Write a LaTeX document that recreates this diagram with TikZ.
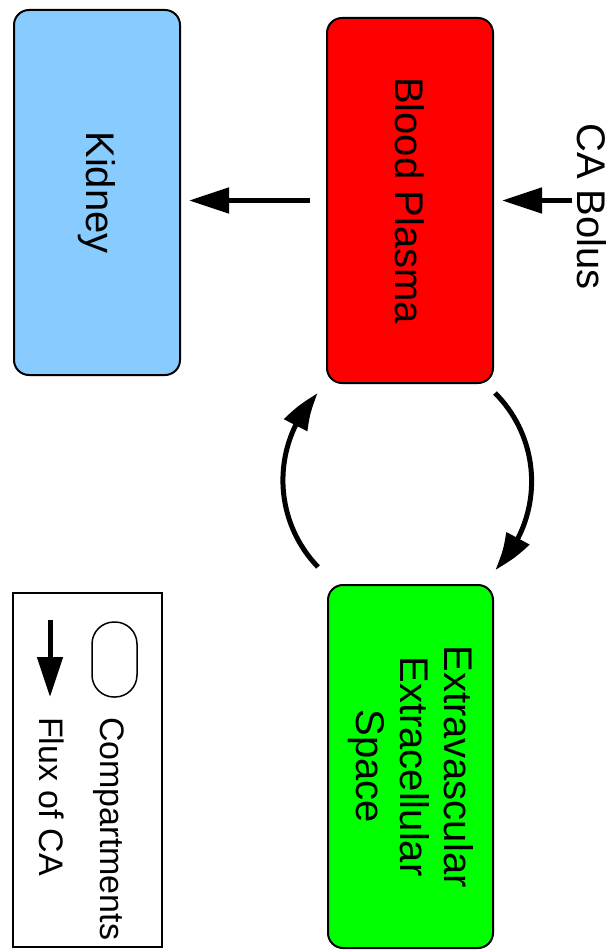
\documentclass[tikz,border=0pt]{standalone}
\usepackage{fontspec}
\setmainfont{Liberation Sans}
\usetikzlibrary{arrows.meta,bending}
\definecolor{kidneyblue}{RGB}{136,204,255}
\definecolor{plasmared}{RGB}{255,0,0}
\definecolor{eesgreen}{RGB}{0,255,0}
\begin{document}
\begin{tikzpicture}[x=1pt,y=-1pt,
  comp/.style={draw=black, line width=2pt, rounded corners=15pt, rotate=-90,
    minimum width=365pt, minimum height=166pt, inner sep=0pt,
    font=\fontsize{40}{44}\selectfont, align=center},
  flux/.style={line width=5pt, -{Triangle[length=40pt,width=25pt]}},
  cflux/.style={line width=5pt, -{Triangle[length=40pt,width=25pt,bend]}},
  lbl/.style={rotate=-90, inner sep=0pt, font=\fontsize{40}{44}\selectfont},
  legtxt/.style={rotate=-90, inner sep=0pt, anchor=west, font=\fontsize{34}{38}\selectfont}]
\useasboundingbox (0,0) rectangle (613,950);
% compartments
\node[comp, fill=kidneyblue] (kidney) at (97,192.5) {Kidney};
\node[comp, fill=plasmared] (bp) at (410,200.5) {Blood Plasma};
\node[comp, fill=eesgreen, minimum width=363pt, minimum height=165pt] (ees) at (410.5,766.5)
  {Extravascular\\Extracellular\\Space};
% bolus
\node[lbl, anchor=west] (bolus) at (592,123) {CA Bolus};
\coordinate (bolustail) at (572,200.5);
\coordinate (bolustip) at (502,200.5);
\draw[flux] (bolustail) -- (bolustip);
% plasma -> kidney
\coordinate (kidtail) at (310,200.5);
\coordinate (kidtip) at (189,200.5);
\draw[flux] (kidtail) -- (kidtip);
% exchange arcs
\coordinate (eesout) at (318,567);
\coordinate (bpout) at (495,393);
\draw[cflux] (eesout) arc[start angle=136, end angle=224, radius=125];
\draw[cflux] (bpout) arc[start angle=-45, end angle=45, radius=125];
% legend
\node[draw=black, line width=1.5pt, minimum width=149pt, minimum height=354pt, inner sep=0pt]
  (legend) at (87.5,770) {};
\node[draw=black, line width=1.5pt, rounded corners=22pt, rotate=-90,
  minimum width=75pt, minimum height=45pt, inner sep=0pt] (legcomp) at (114.5,659.5) {};
\coordinate (legA) at (50,620);
\coordinate (legB) at (50,697);
\draw[flux] (legA) -- (legB);
\node[legtxt] (legcomptxt) at (109,717) {Compartments};
\node[legtxt] (legfluxtxt) at (52,717) {Flux of CA};
\end{tikzpicture}
\end{document}
